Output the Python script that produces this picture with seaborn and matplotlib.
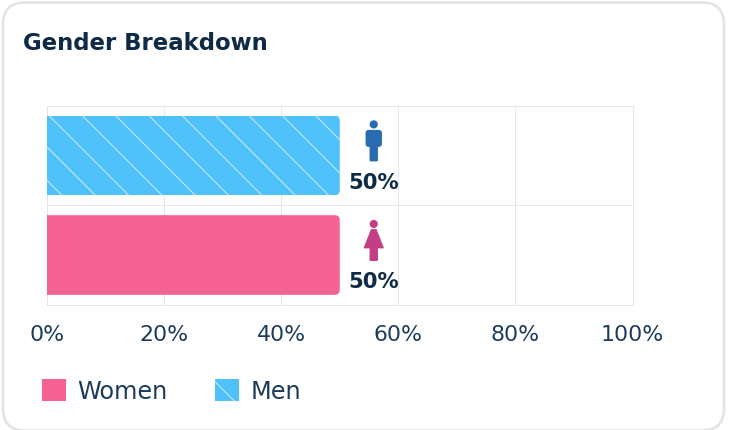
import matplotlib
matplotlib.use("Agg")
import matplotlib.pyplot as plt
import seaborn as sns
import pandas as pd
from matplotlib.patches import FancyBboxPatch, Patch, Circle, Polygon
from matplotlib.transforms import Affine2D, IdentityTransform

genders = ["Men", "Women"]
shares = [50, 50]
x_ticks = [0, 20, 40, 60, 80, 100]
x_tick_labels = ["0%", "20%", "40%", "60%", "80%", "100%"]
title = "Gender Breakdown"
legend_order = ["Women", "Men"]

W, H, DPI = 730, 431, 200
PT = 72 / DPI  # points per pixel
BLUE, PINK = "#4FC1FA", "#F36292"
MAN, WOMAN = "#2B6CB0", "#C23F85"
DARK, TICK = "#0E2A47", "#1C3B5A"
GRID = "#E6E6E6"
HATCH = "#C3E9FC"

sns.set_theme(style="white")
plt.rcParams["font.family"] = ["DejaVu Sans"]
plt.rcParams["hatch.linewidth"] = 1.1 * PT

fig = plt.figure(figsize=(W / DPI, H / DPI), dpi=DPI, facecolor="white")
ax = fig.add_axes([47 / W, 1 - 305.8 / H, 585.5 / W, 199.2 / H])

# card outline
card = FancyBboxPatch((3, -0.5), 721, 428, boxstyle="round,pad=0,rounding_size=22",
                      transform=IdentityTransform(), fc="white", ec="#E3E3E3", lw=2.6 * PT, zorder=-5)
card.set_figure(fig)
fig.patches.append(card)

df = pd.DataFrame({"gender": genders, "share": shares})
sns.barplot(data=df, y="gender", x="share", hue="gender", order=genders, hue_order=genders,
            palette={"Men": BLUE, "Women": PINK}, width=0.8, dodge=False, legend=False,
            ax=ax, zorder=3, saturation=1)

ax.set_xlim(0, 100)
ax.set_ylim(1.5, -0.5)
ax.set_xlabel("")
ax.set_ylabel("")
ax.set_yticks([])
ax.set_xticks(x_ticks, x_tick_labels)
ax.tick_params(axis="x", length=0, pad=19 * PT, labelsize=22 * PT, labelcolor=TICK)
ax.patch.set_alpha(0)
for s in ax.spines.values():
    s.set_color(GRID)
    s.set_linewidth(1.0 * PT)
ax.xaxis.grid(True, color=GRID, lw=1.0 * PT, zorder=0)
ax.set_axisbelow(True)
ax.axhline(0.5, color=GRID, lw=1.0 * PT, zorder=1)

fig.canvas.draw()


def px_patch(patch, cx, cy):
    patch.set_zorder(4)
    patch.set_clip_on(False)
    fig.add_artist(patch)
    patch.set_transform(Affine2D().scale(1, -1).translate(cx, cy))


def man_icon(cx, cy):
    px_patch(Circle((0, -16.5), 4.1, fc=MAN, ec="none"), cx, cy)
    px_patch(FancyBboxPatch((-8.2, -11), 16.4, 17, boxstyle="round,pad=0,rounding_size=3", fc=MAN, ec="none"), cx, cy)
    px_patch(FancyBboxPatch((-4.2, 2), 8.4, 18.5, boxstyle="round,pad=0,rounding_size=1.2", fc=MAN, ec="none"), cx, cy)


def woman_icon(cx, cy):
    px_patch(Circle((0, -16.5), 4.1, fc=WOMAN, ec="none"), cx, cy)
    px_patch(Polygon([(-2.5, -11), (2.5, -11), (9.7, 7.5), (-9.7, 7.5)], closed=True,
                     fc=WOMAN, ec=WOMAN, lw=0.8 * PT, joinstyle="round"), cx, cy)
    px_patch(FancyBboxPatch((-4.2, 5), 8.4, 15.5, boxstyle="round,pad=0,rounding_size=1.2", fc=WOMAN, ec="none"), cx, cy)


icons = {"Men": man_icon, "Women": woman_icon}
bars = [c[0] for c in ax.containers]
for gender, value, bar in zip(genders, shares, bars):
    bb = bar.get_window_extent()
    # rounded right corners only: clip region extends past the left edge
    clip = FancyBboxPatch((bb.x0 - 20, bb.y0), bb.width + 20, bb.height,
                          boxstyle="round,pad=0,rounding_size=5", transform=IdentityTransform())
    bar.set_clip_path(clip)
    bar.set_linewidth(0)
    if gender == "Men":
        bar.set_hatch("\\\\")
        bar.set_edgecolor(HATCH)
    icons[gender](bb.x1 + 34, (bb.y0 + bb.y1) / 2 + 14.5)
    ax.annotate(f"{value}%", xy=(value, genders.index(gender)), xytext=(34 * PT, -26.5 * PT),
                textcoords="offset points", ha="center", va="center",
                fontsize=21.3 * PT, fontweight="bold", color=DARK, zorder=5, annotation_clip=False)

fig.text(23 / W, 1 - 43 / H, title, fontsize=22.7 * PT, fontweight="bold", color=DARK, ha="left", va="center")

handles = [Patch(fc=PINK, ec="none", label="Women"),
           Patch(fc=BLUE, ec=HATCH, lw=0, hatch="\\\\", label="Men")]
handles = [h for name in legend_order for h in handles if h.get_label() == name]
fig.legend(handles=handles, loc="center left", bbox_to_anchor=(42 / W, 1 - 392 / H), ncol=2, frameon=False,
           borderpad=0, borderaxespad=0, fontsize=24 * PT, labelcolor=TICK,
           handlelength=1.0, handleheight=1.0, handletextpad=11 / 24, columnspacing=48 / 24)

fig.savefig("out.png", dpi=DPI, facecolor="white")
